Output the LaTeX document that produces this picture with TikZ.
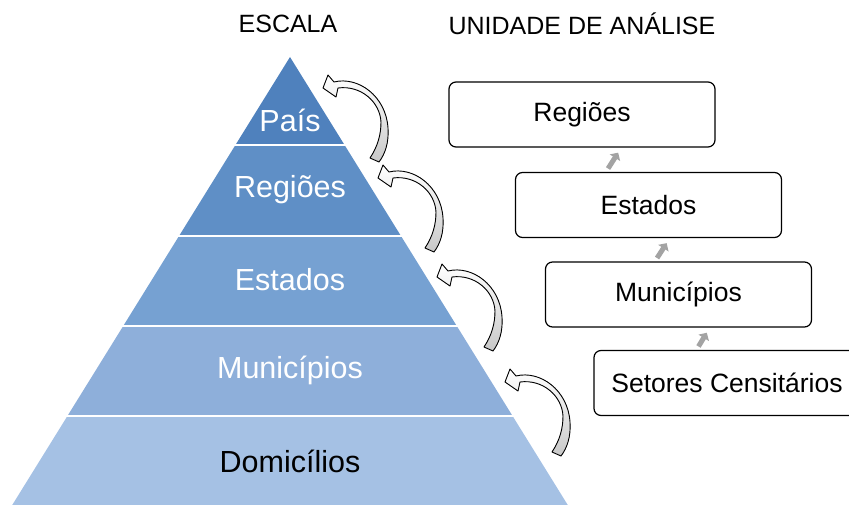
\documentclass[tikz,border=0pt]{standalone}
\usepackage{fontspec}
\setmainfont{Liberation Sans}
\usepackage{tikz}
\usetikzlibrary{positioning, shapes, arrows.meta}

\definecolor{lvlpais}{HTML}{4F81BD}
\definecolor{lvlregioes}{HTML}{5F8FC6}
\definecolor{lvlestados}{HTML}{76A1D2}
\definecolor{lvlmunicipios}{HTML}{8EAFDA}
\definecolor{lvldomicilios}{HTML}{A5C1E4}
\definecolor{arrowgray}{HTML}{C8C8C8}
\definecolor{minigray}{HTML}{A3A3A3}

\tikzset{
  bendarrow/.pic={
    \filldraw[top color=white, middle color=white, bottom color=arrowgray,
        draw=black, line width=0.9pt, line join=round]
      (0,0) -- (5,-13) -- (11,-6)
      .. controls (35,-12) and (63,8) .. (65,40)
      .. controls (66,55) and (62,66) .. (56,74)
      -- (47,70)
      .. controls (55,58) and (58,46) .. (58,34)
      .. controls (57,14) and (38,-3) .. (15,0)
      -- (13,9) -- cycle;
  }
}

\begin{document}
\begin{tikzpicture}[x=1pt, y=-1pt,
    lvl/.style={font=\fontsize{30.5}{33}\selectfont, text=white},
    box/.style={draw, line width=1.2pt, rounded corners=7pt, fill=white,
      minimum width=266pt, minimum height=65pt, font=\fontsize{26.5}{30}\selectfont},
    head/.style={font=\fontsize{25}{28}\selectfont},
    miniarrow/.style={draw=minigray, line width=5pt,
      -{Triangle[width=12pt, length=6pt]}, shorten <=4pt, shorten >=6pt}]
  \useasboundingbox (0,0) rectangle (849,505);
  \clip (0,0) rectangle (849,505);

  % pyramid
  \foreach \ytop/\ybot/\col in {57/145/lvlpais, 145/236/lvlregioes,
      236/326/lvlestados, 326/416/lvlmunicipios, 416/505/lvldomicilios}
    \fill[\col] ({290-0.62*(\ytop-57)},\ytop) -- ({290+0.62*(\ytop-57)},\ytop)
      -- ({290+0.62*(\ybot-57)},\ybot) -- ({290-0.62*(\ybot-57)},\ybot) -- cycle;
  \foreach \y in {145, 236, 326, 416}
    \draw[white, line width=2pt] ({290-0.62*(\y-57)-2},\y) -- ({290+0.62*(\y-57)+2},\y);

  \node[lvl] (lpais) at (290,120) {País};
  \node[lvl] (lregioes) at (290,190) {Regiões};
  \node[lvl] (lestados) at (290,280) {Estados};
  \node[lvl] (lmunicipios) at (290,370) {Municípios};
  \node[lvl, text=black] (ldomicilios) at (290,461) {Domicílios};

  % titles
  \node[head] (escala) at (288,24) {ESCALA};
  \node[head] (unidade) at (582,24) {UNIDADE DE ANÁLISE};

  % curved arrows
  \pic at (323,88) {bendarrow};
  \pic at (378,178) {bendarrow};
  \pic at (437,277) {bendarrow};
  \pic at (505,382) {bendarrow};

  % boxes
  \node[box] (bregioes) at (582,114.5) {Regiões};
  \node[box] (bestados) at (648.5,205) {Estados};
  \node[box] (bmunicipios) at (678.5,294.5) {Municípios};
  \node[box] (bsetores) at (727,383) {Setores Censitários};

  \draw[miniarrow] ([xshift=91pt]bestados.north west) -- ([xshift=173pt]bregioes.south west);
  \draw[miniarrow] ([xshift=110pt]bmunicipios.north west) -- ([xshift=155pt]bestados.south west);
  \draw[miniarrow] ([xshift=103pt]bsetores.north west) -- ([xshift=165pt]bmunicipios.south west);
\end{tikzpicture}
\end{document}
